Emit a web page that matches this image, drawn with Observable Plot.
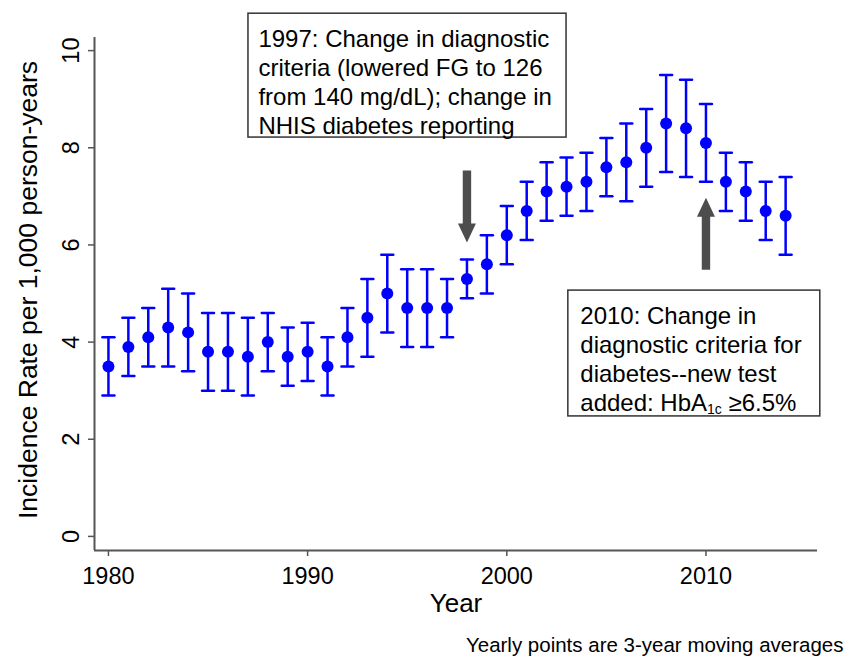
<!DOCTYPE html>
<html>
<head>
<meta charset="utf-8">
<script src="https://cdn.jsdelivr.net/npm/d3@7"></script>
<script src="https://cdn.jsdelivr.net/npm/@observablehq/plot@0.6"></script>
<style>
  body { margin: 0; background: #fff; }
  svg { display: block; }
</style>
</head>
<body>
<div id="chart"></div>
<script>
// ---- data ----
const years = [1980,1981,1982,1983,1984,1985,1986,1987,1988,1989,
               1990,1991,1992,1993,1994,1995,1996,1997,1998,1999,
               2000,2001,2002,2003,2004,2005,2006,2007,2008,2009,
               2010,2011,2012,2013,2014];
const rate  = [3.5,3.9,4.1,4.3,4.2,3.8,3.8,3.7,4.0,3.7,
               3.8,3.5,4.1,4.5,5.0,4.7,4.7,4.7,5.3,5.6,
               6.2,6.7,7.1,7.2,7.3,7.6,7.7,8.0,8.5,8.4,
               8.1,7.3,7.1,6.7,6.6];
const upper = [4.1,4.5,4.7,5.1,5.0,4.6,4.6,4.5,4.6,4.3,
               4.4,4.1,4.7,5.3,5.8,5.5,5.5,5.3,5.7,6.2,
               6.8,7.3,7.7,7.8,7.9,8.2,8.5,8.8,9.5,9.4,
               8.9,7.9,7.7,7.3,7.4];
const lower = [2.9,3.3,3.5,3.5,3.4,3.0,3.0,2.9,3.4,3.1,
               3.2,2.9,3.5,3.7,4.2,3.9,3.9,4.1,4.9,5.0,
               5.6,6.1,6.5,6.6,6.7,7.0,6.9,7.2,7.5,7.4,
               7.3,6.7,6.5,6.1,5.8];
const xTicks = [1980, 1990, 2000, 2010];
const yTicks = [0, 2, 4, 6, 8, 10];

const xLabel = "Year";
const yLabel = "Incidence Rate per 1,000 person-years";
const caption = "Yearly points are 3-year moving averages";

// annotation boxes (data coordinates)
const boxes = [
  {x1: 1987.03, x2: 2003.0, y1: 8.21, y2: 10.76, tx: 1987.53, ty: 9.36,
   text: "1997: Change in diagnostic\ncriteria (lowered FG to 126\nfrom 140 mg/dL); change in\nNHIS diabetes reporting"},
  {x1: 2003.09, x2: 2015.74, y1: 2.47, y2: 5.06, tx: 2003.69, ty: 3.67,
   text: "2010: Change in\ndiagnostic criteria for\ndiabetes--new test\nadded: HbA1c \u22656.5%"}
];
// arrows: tail position and direction
const arrows = [
  {year: 1998, from: 7.53, rotate: 180},
  {year: 2010, from: 5.49, rotate: 0}
];

const data = years.map((year, i) => ({year, rate: rate[i], lo: lower[i], hi: upper[i]}));

const lineShape = {draw(ctx, l) { ctx.moveTo(0, 0); ctx.lineTo(0, -l); }};
const blockArrow = {
  draw(ctx, l) {
    const hw = 4.2, w = 9, h = 19;
    ctx.moveTo(-hw, 0);
    ctx.lineTo(-hw, h - l);
    ctx.lineTo(-w, h - l);
    ctx.lineTo(0, -l);
    ctx.lineTo(w, h - l);
    ctx.lineTo(hw, h - l);
    ctx.lineTo(hw, 0);
    ctx.closePath();
  }
};

const blue = "#0000ff";
const axisGray = "#555555";
const xDomain = [1979.3, 2015.6];
const yDomain = [-0.29, 10.27];

const svg = Plot.plot({
  width: 846,
  height: 656,
  marginLeft: 94,
  marginRight: 29,
  marginTop: 37,
  marginBottom: 106,
  x: {domain: xDomain},
  y: {domain: yDomain},
  style: {fontFamily: "'Liberation Sans', Arial, Helvetica, sans-serif", background: "white", color: "black"},
  marks: [
    // axis lines
    Plot.ruleY([yDomain[0]], {stroke: axisGray, strokeWidth: 2}),
    Plot.ruleX([xDomain[0]], {stroke: axisGray, strokeWidth: 2}),
    Plot.axisX({ticks: xTicks, tickSize: 6, tickPadding: 11, fontSize: 23.5, stroke: axisGray, strokeWidth: 1.5,
                label: null, tickFormat: d => String(d), fill: "black"}),
    Plot.axisY({ticks: yTicks, tickSize: 6, stroke: axisGray, strokeWidth: 1.5, fill: "none", label: null}),
    Plot.text(yTicks, {y: d => d, text: d => String(d), frameAnchor: "left", dx: -23, rotate: -90,
                       fontSize: 23.5, lineAnchor: "middle", textAnchor: "middle", fill: "black"}),
    Plot.text([yLabel], {text: d => d, frameAnchor: "left", dx: -66, dy: -4, rotate: -90, fontSize: 26.5,
                         lineAnchor: "middle", textAnchor: "middle", fill: "black"}),
    Plot.text([xLabel], {text: d => d, frameAnchor: "bottom", dy: 53, fontSize: 26,
                         lineAnchor: "middle", fill: "black"}),
    Plot.text([caption], {text: d => d, frameAnchor: "bottom-right", dx: 26, dy: 95, fontSize: 20.5,
                          textAnchor: "end", lineAnchor: "middle", fill: "black"}),
    // error bars
    Plot.ruleX(data, {x: "year", y1: "lo", y2: "hi", stroke: blue, strokeWidth: 2.5}),
    Plot.vector(data, {x: "year", y: "lo", length: 12, rotate: 90, anchor: "middle", shape: lineShape,
                       stroke: blue, strokeWidth: 2.5}),
    Plot.vector(data, {x: "year", y: "hi", length: 12, rotate: 90, anchor: "middle", shape: lineShape,
                       stroke: blue, strokeWidth: 2.5}),
    Plot.dot(data, {x: "year", y: "rate", r: 6, fill: blue, stroke: "none"}),
    // arrows
    Plot.vector(arrows, {x: "year", y: "from", rotate: "rotate", length: 72, anchor: "start",
                         shape: blockArrow, fill: "#4d4d4d", stroke: "none"}),
    // boxes
    Plot.rect(boxes, {x1: "x1", x2: "x2", y1: "y1", y2: "y2", fill: "white", stroke: "#333", strokeWidth: 1.5}),
    Plot.text(boxes, {x: "tx", y: "ty", text: "text", textAnchor: "start", lineAnchor: "middle",
                      lineHeight: 29 / 24, fontSize: 24, fill: "black"})
  ]
});

// subscript for HbA1c
d3.select(svg).selectAll("tspan").each(function () {
  const t = this.textContent;
  const idx = t.indexOf("HbA1c");
  if (idx >= 0) {
    const before = t.slice(0, idx + 3);
    const after = t.slice(idx + 5);
    this.textContent = before;
    const ns = "http://www.w3.org/2000/svg";
    const sub = document.createElementNS(ns, "tspan");
    sub.setAttribute("font-size", "14");
    sub.setAttribute("dy", "3");
    sub.textContent = "1c";
    this.appendChild(sub);
    const rest = document.createElementNS(ns, "tspan");
    rest.setAttribute("dy", "-3");
    rest.textContent = after;
    this.appendChild(rest);
  }
});

document.getElementById("chart").appendChild(svg);
</script>
</body>
</html>
